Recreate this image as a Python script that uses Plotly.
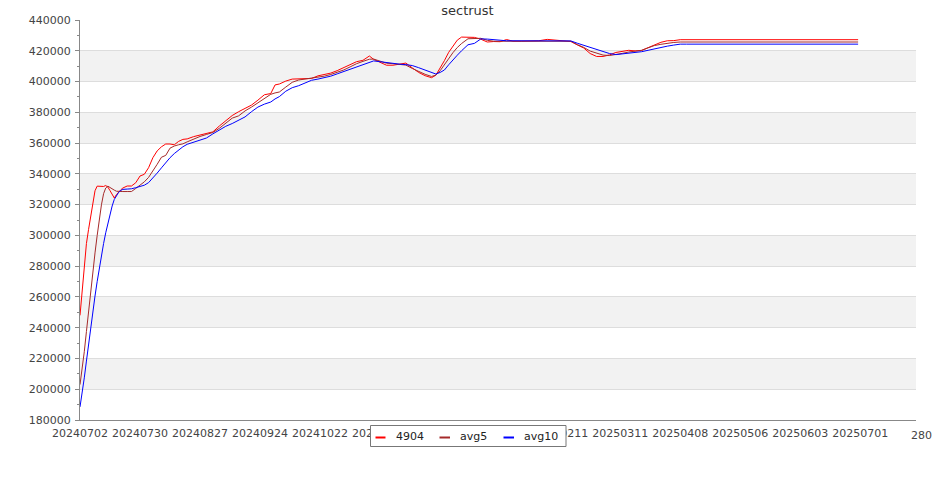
import plotly.graph_objects as go

dates = [
    "2024-07-02","2024-07-03","2024-07-04","2024-07-05","2024-07-06","2024-07-07","2024-07-08","2024-07-09",
    "2024-07-10","2024-07-11","2024-07-12","2024-07-13","2024-07-14","2024-07-15","2024-07-16","2024-07-17",
    "2024-07-18","2024-07-19","2024-07-20","2024-07-21","2024-07-22","2024-07-24","2024-07-26","2024-07-28",
    "2024-07-30","2024-08-01","2024-08-03","2024-08-05","2024-08-07","2024-08-09","2024-08-11","2024-08-13",
    "2024-08-15","2024-08-17","2024-08-19","2024-08-21","2024-08-24","2024-08-27","2024-08-30","2024-09-02",
    "2024-09-05","2024-09-08","2024-09-11","2024-09-14","2024-09-17","2024-09-20","2024-09-23","2024-09-26",
    "2024-09-29","2024-10-01","2024-10-03","2024-10-06","2024-10-09","2024-10-12","2024-10-15","2024-10-18",
    "2024-10-21","2024-10-24","2024-10-27","2024-10-30","2024-11-02","2024-11-05","2024-11-08","2024-11-11",
    "2024-11-14","2024-11-16","2024-11-19","2024-11-22","2024-11-25","2024-11-28","2024-12-01","2024-12-04",
    "2024-12-07","2024-12-10","2024-12-13","2024-12-15","2024-12-17","2024-12-19","2024-12-21","2024-12-23",
    "2024-12-25","2024-12-27","2024-12-30","2025-01-02","2025-01-05","2025-01-08","2025-01-11","2025-01-14",
    "2025-01-17","2025-01-20","2025-01-24","2025-01-28","2025-02-01","2025-02-05","2025-02-09","2025-02-13",
    "2025-02-16","2025-02-19","2025-02-22","2025-02-25","2025-02-28","2025-03-03","2025-03-06","2025-03-09",
    "2025-03-12","2025-03-15","2025-03-18","2025-03-21","2025-03-24","2025-03-27","2025-03-30","2025-04-02",
    "2025-04-05","2025-04-08","2025-04-11","2025-06-30",
]

s4904 = [
    248000,262600,282100,294700,303900,312700,320900,329000,
    332000,332000,331800,331800,332400,331400,329100,326700,
    324300,326500,328300,329600,330800,332100,332100,334200,
    338600,339700,344000,350500,354900,357600,359400,359400,
    358900,361100,362400,362700,364200,365300,366400,367300,
    371100,374400,377900,380400,382600,384700,387900,391400,
    392200,397800,398400,400300,401600,401700,401800,402000,
    403700,404400,405500,407100,408900,411200,412900,413800,
    416600,414400,412400,410600,410600,411300,412000,408900,
    405900,403800,402500,404100,408400,413600,419000,423200,
    426900,428900,428900,428700,427500,425700,426000,425900,
    427300,426200,426200,426200,426500,427400,426800,426500,
    426000,423800,421800,418200,416300,416300,417300,418900,
    419500,420300,419900,420200,422000,423700,425500,426500,
    426600,427200,427200,427200,
]

avg5 = [
    203000,212800,224400,237500,251300,264600,276600,288600,
    299800,311000,319900,327100,330800,332000,331000,330100,
    329400,328700,328500,328500,328500,328500,328500,330500,
    332600,334800,337700,341600,346200,350800,352000,356700,
    358100,358900,359500,360800,362800,364300,365600,366900,
    369600,373000,376200,377700,380900,383400,386200,389200,
    391700,392600,393200,396400,399500,401000,401600,402000,
    402700,403500,404600,405800,407500,409500,411600,413100,
    414500,414600,413300,411900,411600,411300,410700,408500,
    406500,404700,403300,404200,407000,411100,415200,418800,
    422100,424700,427800,428000,428100,426800,426200,426200,
    426200,426200,426200,426200,426200,426200,426200,426200,
    426200,424000,422200,419800,418300,417200,416900,417400,
    418300,419200,419600,420300,421900,423400,424200,424900,
    425400,425700,425700,425700,
]

avg10 = [
    188500,196800,207400,218300,229400,240200,250400,260600,
    269900,279200,287200,294700,301700,308200,314700,319100,
    323400,325700,327900,329200,329900,330100,330300,331000,
    331800,332600,334300,337200,340500,343900,347300,350500,
    353200,355600,357600,359200,360600,362000,363300,366000,
    368500,370900,372700,374600,377000,380400,383400,385300,
    386700,388700,390200,393700,396000,397300,399100,400800,
    401600,402400,403500,405000,406500,408200,409900,411400,
    412700,413400,412900,412300,411800,411300,411000,410400,
    409000,407400,405800,404900,405900,407500,410900,414200,
    417100,420000,423900,424800,427700,427600,427200,426600,
    426500,426500,426500,426500,426500,426500,426500,426400,
    426400,424900,423500,422200,420800,419100,418200,417500,
    417900,418200,418800,419400,420300,421300,422200,423000,
    423700,424300,424300,424300,
]

tick_dates = ["2024-07-02","2024-07-30","2024-08-27","2024-09-24","2024-10-22","2024-11-19",
              "2024-12-17","2025-01-14","2025-02-11","2025-03-11","2025-04-08","2025-05-06",
              "2025-06-03","2025-07-01"]
tick_labels = [d.replace("-", "") for d in tick_dates]
y_ticks = list(range(180000, 440001, 20000))

series_names = ["4904", "avg5", "avg10"]
series_values = [s4904, avg5, avg10]
series_colors = ["#ff0000", "#a52a2a", "#0000ff"]

W, H = 935, 500
ML, MR, MT, MB = 80, 19, 20, 80
PW, PH = W - ML - MR, H - MT - MB


def px_x(p):
    return (p - ML) / PW


def px_y(p):
    return (H - MB - p) / PH


fig = go.Figure()
for name, vals, col in zip(series_names, series_values, series_colors):
    fig.add_trace(go.Scatter(x=dates, y=vals, name=name, mode="lines",
                             line=dict(color=col, width=1), showlegend=False))

# alternating bands
for i, lo in enumerate(y_ticks[:-1]):
    if i % 2 == 1:
        fig.add_shape(type="rect", xref="paper", x0=0, x1=1, y0=lo, y1=lo + 20000,
                      fillcolor="#f2f2f2", line=dict(width=0), layer="below")

font = "DejaVu Sans, sans-serif"

# legend box drawn on top of the axis labels
fig.add_shape(type="rect", xref="paper", yref="paper",
              x0=px_x(370.5), x1=px_x(566), y0=px_y(425.5), y1=px_y(446.5),
              fillcolor="white", line=dict(color="#777777", width=1), layer="above")
leg_dash = [(375.5, 385.5), (439.5, 450), (503.5, 514)]
leg_text_x = [394, 458, 521.5]
for name, col, (a, b), tx in zip(series_names, series_colors, leg_dash, leg_text_x):
    fig.add_shape(type="line", xref="paper", yref="paper", x0=px_x(a), x1=px_x(b),
                  y0=px_y(437.5), y1=px_y(437.5), line=dict(color=col, width=2), layer="above")
    fig.add_annotation(text=name, xref="paper", yref="paper", x=px_x(tx), y=px_y(436.5),
                       xanchor="left", yanchor="middle", showarrow=False,
                       font=dict(family=font, size=11, color="#222222"))

fig.update_layout(
    width=W, height=H,
    margin=dict(l=ML, r=MR, t=MT, b=MB, autoexpand=False),
    paper_bgcolor="white", plot_bgcolor="white",
    font=dict(family=font, size=11, color="#444444"),
    title=dict(text="sectrust", x=0.5, xanchor="center", y=0.98, yref="container",
               yanchor="middle", font=dict(family=font, size=13, color="#333333")),
    showlegend=False,
)
fig.update_xaxes(type="date", range=["2024-07-02", "2025-07-27"],
                 tickmode="array", tickvals=tick_dates, ticktext=tick_labels,
                 showgrid=False, showline=True, linecolor="#888888", linewidth=1,
                 ticks="", zeroline=False, ticklabelstandoff=3,
                 tickfont=dict(size=11, color="#444444"))
fig.update_yaxes(range=[180000, 440000], tickmode="array", tickvals=y_ticks,
                 ticktext=[str(v) for v in y_ticks],
                 showgrid=True, gridcolor="#dddddd", gridwidth=1,
                 showline=True, linecolor="#888888", linewidth=1,
                 ticks="outside", ticklen=4, tickcolor="#888888", zeroline=False,
                 ticklabelstandoff=2,
                 minor=dict(ticks="outside", ticklen=2, tickcolor="#888888",
                            tickvals=list(range(190000, 440000, 20000)), showgrid=False),
                 tickfont=dict(size=11, color="#444444"))
fig.add_annotation(text="280", xref="paper", yref="paper", x=px_x(909), y=px_y(435),
                   xanchor="left", yanchor="middle", showarrow=False,
                   font=dict(family=font, size=11, color="#444444"))
fig.write_html("out.html", config={"displayModeBar": False},
               post_script="document.body.style.margin='0px';document.body.style.overflow='hidden';")
